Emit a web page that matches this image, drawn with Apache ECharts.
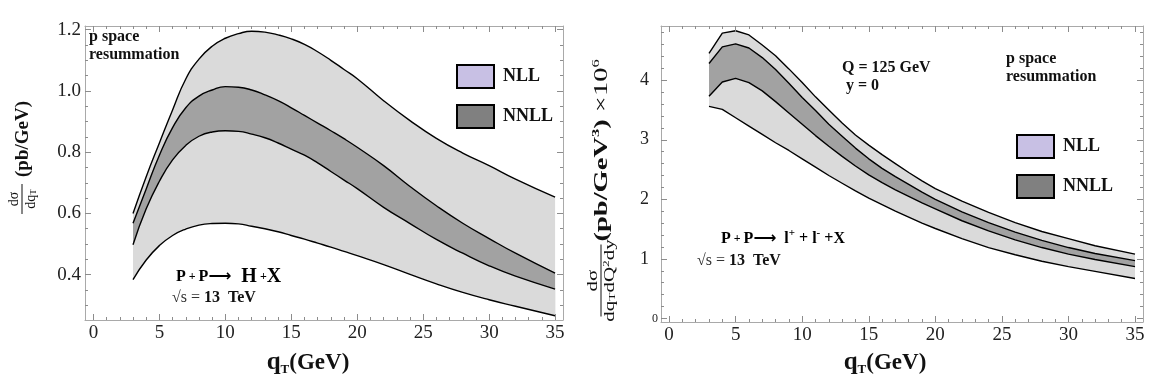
<!DOCTYPE html>
<html>
<head>
<meta charset="utf-8">
<script src="https://cdn.jsdelivr.net/npm/echarts@6/dist/echarts.min.js"></script>
<style>html,body{margin:0;padding:0;background:#fff}#c{width:1167px;height:381px}</style>
</head>
<body>
<div id="c"></div>
<script>
// ---- data ----
const qT = [3,4,5,6,7,8,9,10,11,12,13,14,15,16,17,18,19,20,22,24,26,28,30,32,35];

// Left panel: P+P -> H+X, dsigma/dqT (pb/GeV)
const higgsNLLUpper  = [0.600,0.720,0.830,0.938,1.039,1.104,1.146,1.172,1.187,1.195,1.192,1.183,1.170,1.152,1.128,1.100,1.070,1.040,0.968,0.903,0.845,0.797,0.756,0.712,0.653];
const higgsNLLLower  = [0.384,0.448,0.495,0.528,0.549,0.562,0.567,0.568,0.566,0.558,0.550,0.540,0.528,0.516,0.503,0.490,0.476,0.462,0.433,0.401,0.370,0.342,0.318,0.297,0.266];
const higgsNNLLUpper = [0.568,0.680,0.790,0.880,0.945,0.983,1.003,1.014,1.012,1.003,0.987,0.968,0.945,0.920,0.895,0.870,0.844,0.816,0.756,0.688,0.625,0.568,0.518,0.470,0.405];
const higgsNNLLLower = [0.498,0.615,0.705,0.775,0.822,0.852,0.866,0.870,0.868,0.859,0.847,0.830,0.810,0.790,0.765,0.737,0.709,0.681,0.620,0.567,0.515,0.470,0.429,0.395,0.353];

// Right panel: P+P -> l+ l- + X, (pb/GeV^3) x 10^6
const dyNLLUpper  = [4.45,4.79,4.83,4.76,4.59,4.41,4.19,3.96,3.72,3.50,3.28,3.08,2.91,2.75,2.60,2.45,2.31,2.18,1.97,1.78,1.61,1.46,1.34,1.22,1.08];
const dyNNLLUpper = [4.28,4.56,4.61,4.54,4.38,4.18,3.95,3.71,3.49,3.26,3.06,2.86,2.68,2.52,2.38,2.25,2.12,2.00,1.79,1.61,1.45,1.31,1.19,1.09,0.97];
const dyNNLLLower = [3.73,3.97,4.03,3.96,3.82,3.64,3.45,3.26,3.07,2.89,2.72,2.56,2.41,2.28,2.16,2.05,1.94,1.84,1.64,1.47,1.32,1.19,1.08,0.99,0.87];
const dyNLLLower  = [3.56,3.51,3.37,3.23,3.09,2.95,2.82,2.68,2.54,2.40,2.27,2.14,2.02,1.91,1.80,1.70,1.60,1.51,1.34,1.19,1.07,0.96,0.87,0.79,0.67];

// tick labels
const xTickLabels = [0,5,10,15,20,25,30,35];
const higgsYTickLabels = [0.4,0.6,0.8,1.0,1.2];
const dyYTickLabels = [1,2,3,4];
const legendNames = ['NLL','NNLL'];

// ---- styles ----
const FONT = '"Liberation Serif", "DejaVu Serif", serif';
const FRAME = '#a9a9a9';
const TICK = '#8c8c8c';
const LIGHT = '#dadada';
const DARK = '#a2a2a2';
const LEG_NLL = '#c8c0e4';
const LEG_NNLL = '#808080';

function seq(a, b, step) {
  const out = [];
  for (let v = a; v <= b + 1e-9; v += step) out.push(Math.round(v * 1000) / 1000);
  return out;
}
function minorOf(all, majors) {
  return all.filter(v => !majors.some(m => Math.abs(m - v) < 1e-6));
}

const X_MAX = 35.6;
const X_MIN_L = -0.64, X_MIN_R = -0.6055;
const xMinor = minorOf(seq(0, 35, 1), xTickLabels);

function axisSet(dim, grid, min, max, majors, minors, labelCfg) {
  const base = {type: 'value', gridIndex: grid, min: min, max: max, splitLine: {show: false}, z: 10};
  const pos = dim === 'x' ? ['bottom', 'top'] : ['left', 'right'];
  const mk = (p, vals, len, line, label) => Object.assign({}, base, {
    position: p,
    axisLine: {show: line, onZero: false, lineStyle: {color: FRAME, width: 1}},
    axisTick: {show: true, inside: true, length: len, customValues: vals, lineStyle: {color: TICK, width: 1}},
    axisLabel: label ? label : {show: false}
  });
  return [
    mk(pos[0], majors, 6, true, labelCfg),
    mk(pos[0], minors, 3, false, null),
    mk(pos[1], majors, 6, true, null),
    mk(pos[1], minors, 3, false, null)
  ];
}

const xLabel = {show: true, customValues: xTickLabels, margin: 4, fontFamily: FONT, fontSize: 19, color: '#222'};

const xAxes = [].concat(
  axisSet('x', 0, X_MIN_L, X_MAX, xTickLabels, xMinor, xLabel),
  axisSet('x', 1, X_MIN_R, X_MAX, xTickLabels, xMinor, xLabel)
);

const hMin = 0.252, hMax = 1.212;
const hMinor = minorOf(seq(0.25, 1.2, 0.05), higgsYTickLabels);
const dMin = -0.06, dMax = 4.91;
const dMinor = minorOf(seq(0, 4.8, 0.2), [0].concat(dyYTickLabels));

const yAxes = [].concat(
  axisSet('y', 0, hMin, hMax, higgsYTickLabels, hMinor,
    {show: true, customValues: higgsYTickLabels, margin: 4, fontFamily: FONT, fontSize: 19, color: '#222',
     formatter: v => Number(v).toFixed(1)}),
  axisSet('y', 1, dMin, dMax, [0].concat(dyYTickLabels), dMinor,
    {show: true, customValues: dyYTickLabels, margin: 12, fontFamily: FONT, fontSize: 18, color: '#222'}),
  [{type: 'value', gridIndex: 1, min: dMin, max: dMax, position: 'left', splitLine: {show: false},
    axisLine: {show: false, onZero: false}, axisTick: {show: false},
    axisLabel: {show: true, customValues: [0], margin: 3, fontFamily: FONT, fontSize: 12, color: '#222'}}]
);

// Layered fills: each curve fills down to the axis minimum; drawn from top curve to bottom curve
function curve(vals, fill, name, ai, smooth, z) {
  return {type: 'line', name: name, xAxisIndex: ai, yAxisIndex: ai,
    data: qT.map((q, i) => [q, vals[i]]), symbol: 'none', smooth: smooth,
    lineStyle: {color: '#000', width: 1.4}, areaStyle: {color: fill, opacity: 1, origin: 'start'},
    color: fill, z: z, silent: true};
}

const series = [
  curve(higgsNLLUpper, LIGHT, 'NLL', 0, 0.5, 2),
  curve(higgsNNLLUpper, DARK, 'NNLL', 0, 0.5, 3),
  curve(higgsNNLLLower, LIGHT, 'h-nnll-lo', 0, 0.5, 4),
  curve(higgsNLLLower, '#ffffff', 'h-nll-lo', 0, 0.5, 5),
  curve(dyNLLUpper, LIGHT, 'NLL', 4, false, 2),
  curve(dyNNLLUpper, DARK, 'NNLL', 4, false, 3),
  curve(dyNNLLLower, LIGHT, 'd-nnll-lo', 4, false, 4),
  curve(dyNLLLower, '#ffffff', 'd-nll-lo', 4, false, 5)
];

function legendAt(left, top) {
  return {
    left: left, top: top, orient: 'vertical', itemWidth: 37, itemHeight: 23, itemGap: 15,
    selectedMode: false,
    textStyle: {fontFamily: FONT, fontWeight: 'bold', fontSize: 18, color: '#111', padding: [0, 0, 0, 4]},
    data: [
      {name: legendNames[0], icon: 'rect', itemStyle: {color: LEG_NLL, borderColor: '#000', borderWidth: 2}},
      {name: legendNames[1], icon: 'rect', itemStyle: {color: LEG_NNLL, borderColor: '#000', borderWidth: 2}}
    ]
  };
}

const B16 = 'bold 16px ' + FONT;
function txt(x, y, text, font, extra) {
  return Object.assign({type: 'text', x: x, y: y, z: 50,
    style: {text: text, font: font, fill: '#111', lineHeight: 18}}, extra || {});
}

const reactRich = {
  a: {fontFamily: FONT, fontWeight: 'bold', fontSize: 16, lineHeight: 22},
  p: {fontFamily: FONT, fontWeight: 'bold', fontSize: 12, lineHeight: 22},
  arr: {fontFamily: '"DejaVu Sans", sans-serif', fontWeight: 'bold', fontSize: 16, lineHeight: 22},
  big: {fontFamily: FONT, fontWeight: 'bold', fontSize: 20, lineHeight: 22},
  sup: {fontFamily: FONT, fontWeight: 'bold', fontSize: 11, lineHeight: 12, verticalAlign: 'top'}
};
const sRich = {
  n: {fontFamily: FONT, fontSize: 16, fill: '#333'},
  b: {fontFamily: FONT, fontWeight: 'bold', fontSize: 16, fill: '#111'}
};

const titleRich = {
  q: {fontFamily: FONT, fontWeight: 'bold', fontSize: 25, lineHeight: 26, fill: '#111'},
  t: {fontFamily: FONT, fontWeight: 'bold', fontSize: 13, lineHeight: 14, verticalAlign: 'bottom', fill: '#111'},
  g: {fontFamily: FONT, fontWeight: 'bold', fontSize: 23, lineHeight: 26, fill: '#111'}
};

const fracRich = {
  a: {fontFamily: FONT, fontSize: 14, lineHeight: 15, fill: '#111'},
  b: {fontFamily: FONT, fontSize: 9, lineHeight: 9, verticalAlign: 'bottom', fill: '#111'},
  c: {fontFamily: FONT, fontSize: 9, lineHeight: 9, verticalAlign: 'top', fill: '#111'}
};
const mainRich = {
  m: {fontFamily: FONT, fontWeight: 'bold', fontSize: 19, lineHeight: 22, fill: '#111'},
  n: {fontFamily: FONT, fontSize: 19, lineHeight: 22, fill: '#111'},
  s: {fontFamily: FONT, fontWeight: 'bold', fontSize: 11, lineHeight: 11, verticalAlign: 'top', fill: '#111'},
  sn: {fontFamily: FONT, fontSize: 11, lineHeight: 11, verticalAlign: 'top', fill: '#111'}
};

const graphic = [
  txt(89, 28, 'p space\nresummation', B16),
  txt(1006, 50, 'p space\nresummation', B16),
  txt(842, 59, 'Q = 125 GeV\n y = 0', B16),
  {type: 'text', x: 176, y: 266, z: 50, style: {text: '{a|P}{p| + }{a|P}{arr|⟶}{big|  H}{p| +}{big|X}', rich: reactRich}},
  {type: 'text', x: 172, y: 290, z: 50, style: {text: '{n|√s = }{b|13  TeV}', rich: sRich}},
  {type: 'text', x: 721, y: 228, z: 50, style: {text: '{a|P}{p| + }{a|P}{arr|⟶}{a|  l}{sup|+}{a| + l}{sup|-}{a| +X}', rich: reactRich}},
  {type: 'text', x: 697, y: 253, z: 50, style: {text: '{n|√s = }{b|13  TeV}', rich: sRich}},
  {type: 'text', x: 308, y: 363, z: 50, style: {text: '{q|q}{t|T}{g|(GeV)}', rich: titleRich, textAlign: 'center', textVerticalAlign: 'middle'}},
  {type: 'text', x: 885, y: 363, z: 50, style: {text: '{q|q}{t|T}{g|(GeV)}', rich: titleRich, textAlign: 'center', textVerticalAlign: 'middle'}},
  // left y-axis title
  {type: 'group', x: 22, y: 217, rotation: Math.PI / 2, z: 50, children: [
    {type: 'text', x: 18, y: -8, style: {text: '{a|dσ}', rich: fracRich, textAlign: 'center', textVerticalAlign: 'middle'}},
    {type: 'line', shape: {x1: 3, y1: 0, x2: 33, y2: 0}, style: {stroke: '#111', lineWidth: 1}},
    {type: 'text', x: 18, y: 9, style: {text: '{a|dq}{b|T}', rich: fracRich, textAlign: 'center', textVerticalAlign: 'middle'}},
    {type: 'text', x: 40, y: 1, style: {text: '{m|(pb/GeV)}', rich: mainRich, textAlign: 'left', textVerticalAlign: 'middle'}}
  ]},
  // right y-axis title
  {type: 'group', x: 601, y: 318, rotation: Math.PI / 2, scaleX: 1.5, z: 50, children: [
    {type: 'text', x: 25, y: -8, style: {text: '{a|dσ}', rich: fracRich, textAlign: 'center', textVerticalAlign: 'middle'}},
    {type: 'line', shape: {x1: 1, y1: 0, x2: 49, y2: 0}, style: {stroke: '#111', lineWidth: 1}},
    {type: 'text', x: 25, y: 9, style: {text: '{a|dq}{b|T}{a|dQ}{c|2}{a|dy}', rich: fracRich, textAlign: 'center', textVerticalAlign: 'middle'}},
    {type: 'text', x: 51, y: 1, style: {text: '{m|(pb/GeV}{s|3}{m|)}{n| ×10}{sn|6}', rich: mainRich, textAlign: 'left', textVerticalAlign: 'middle'}}
  ]}
];

const chart = echarts.init(document.getElementById('c'), null, {renderer: 'canvas'});
chart.setOption({
  animation: false,
  backgroundColor: '#fff',
  grid: [
    {left: 85, top: 26, width: 478, height: 294},
    {left: 661, top: 26, width: 482, height: 296}
  ],
  xAxis: xAxes,
  yAxis: yAxes,
  legend: [legendAt(451, 59), legendAt(1011, 129)],
  series: series,
  graphic: graphic
});
</script>
</body>
</html>
